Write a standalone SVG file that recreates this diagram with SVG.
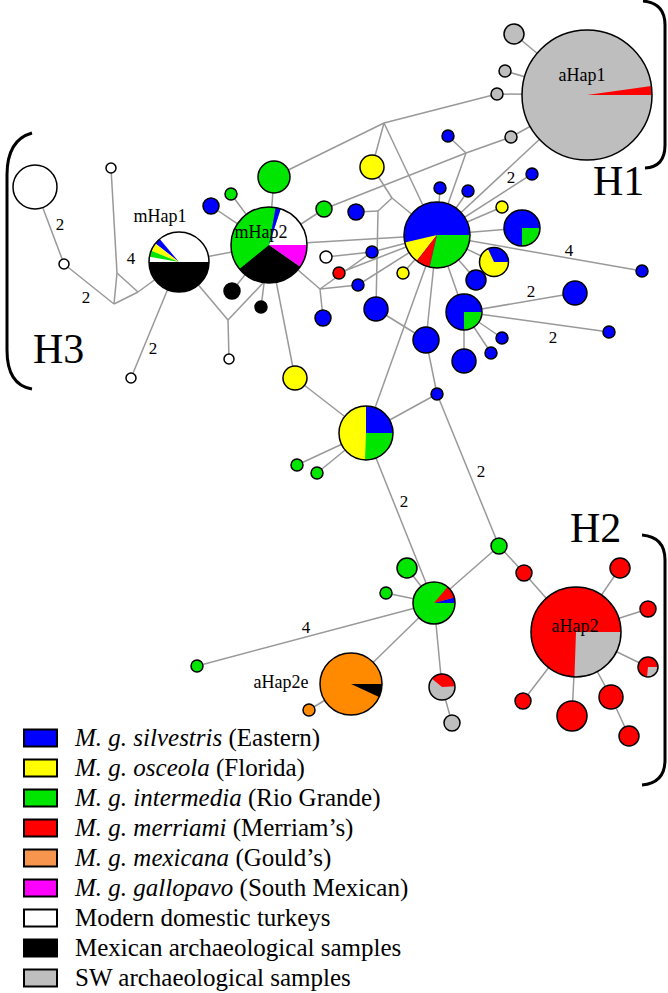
<svg xmlns="http://www.w3.org/2000/svg" width="668" height="993" viewBox="0 0 668 993">
<style>
.e{stroke:#999;stroke-width:1.5;fill:none}
.n{stroke:#000;stroke-width:1.5}
.o{stroke:#000;stroke-width:1.5;fill:none}
.B{fill:#0000ff}.Y{fill:#ffff00}.G{fill:#00e600}.R{fill:#ff0000}.W{fill:#fff}.K{fill:#000}.S{fill:#bebebe}.O{fill:#ff8a00}.M{fill:#ff00ff}
.t{font-family:"Liberation Serif","Times New Roman",serif;fill:#000}
.lb{font-size:17px;text-anchor:middle}
.nm{font-size:18px;text-anchor:middle}
.h{font-size:42px}
.lg{font-size:25px}
.br{stroke:#000;stroke-width:3;fill:none}
.box{stroke:#000;stroke-width:2}
</style>
<rect width="668" height="993" fill="#fff"/>
<g id="connectors" class="e">
<line x1="35" y1="187" x2="64" y2="264"/>
<line x1="64" y1="264" x2="114" y2="304"/>
<line x1="114" y1="304" x2="117" y2="273"/>
<line x1="114" y1="304" x2="138" y2="292"/>
<line x1="117" y1="273" x2="138" y2="292"/>
<line x1="117" y1="273" x2="111" y2="168"/>
<line x1="138" y1="292" x2="179" y2="262"/>
<line x1="179" y1="262" x2="131" y2="378"/>
<line x1="179" y1="262" x2="228" y2="320"/>
<line x1="228" y1="320" x2="229" y2="359"/>
<line x1="228" y1="320" x2="264" y2="282"/>
<line x1="179" y1="262" x2="269" y2="245"/>
<line x1="269" y1="245" x2="211" y2="206"/>
<line x1="269" y1="245" x2="231" y2="194"/>
<line x1="269" y1="245" x2="274" y2="177"/>
<line x1="269" y1="245" x2="324" y2="209"/>
<line x1="269" y1="245" x2="232" y2="291"/>
<line x1="269" y1="245" x2="261" y2="307"/>
<line x1="269" y1="245" x2="295" y2="378"/>
<line x1="269" y1="245" x2="320" y2="289"/>
<line x1="269" y1="245" x2="437" y2="235"/>
<line x1="320" y1="289" x2="323" y2="318"/>
<line x1="320" y1="289" x2="358" y2="285"/>
<line x1="320" y1="289" x2="372" y2="252"/>
<line x1="358" y1="285" x2="437" y2="235"/>
<line x1="326" y1="257" x2="372" y2="252"/>
<line x1="372" y1="252" x2="437" y2="235"/>
<line x1="339" y1="273" x2="437" y2="235"/>
<line x1="274" y1="177" x2="384" y2="123"/>
<line x1="384" y1="123" x2="497" y2="94"/>
<line x1="384" y1="123" x2="372" y2="167"/>
<line x1="384" y1="123" x2="437" y2="235"/>
<line x1="324" y1="209" x2="466" y2="153"/>
<line x1="466" y1="153" x2="511" y2="137"/>
<line x1="466" y1="153" x2="448" y2="136"/>
<line x1="466" y1="153" x2="437" y2="235"/>
<line x1="372" y1="167" x2="392" y2="198"/>
<line x1="392" y1="198" x2="378" y2="211"/>
<line x1="378" y1="211" x2="356" y2="212"/>
<line x1="378" y1="211" x2="376" y2="309"/>
<line x1="392" y1="198" x2="437" y2="235"/>
<line x1="403" y1="273" x2="437" y2="235"/>
<line x1="437" y1="235" x2="440" y2="188"/>
<line x1="437" y1="235" x2="468" y2="191"/>
<line x1="437" y1="235" x2="532" y2="174"/>
<line x1="437" y1="235" x2="587" y2="95"/>
<line x1="437" y1="235" x2="502" y2="207"/>
<line x1="437" y1="235" x2="522" y2="228"/>
<line x1="437" y1="235" x2="494" y2="262"/>
<line x1="437" y1="235" x2="476" y2="280"/>
<line x1="437" y1="235" x2="642" y2="271"/>
<line x1="437" y1="235" x2="464" y2="312"/>
<line x1="437" y1="235" x2="426" y2="340"/>
<line x1="437" y1="235" x2="366" y2="433"/>
<line x1="587" y1="95" x2="514" y2="34"/>
<line x1="587" y1="95" x2="505" y2="71"/>
<line x1="587" y1="95" x2="497" y2="94"/>
<line x1="587" y1="95" x2="511" y2="137"/>
<line x1="464" y1="312" x2="575" y2="293"/>
<line x1="464" y1="312" x2="609" y2="332"/>
<line x1="464" y1="312" x2="502" y2="338"/>
<line x1="464" y1="312" x2="491" y2="353"/>
<line x1="464" y1="312" x2="464" y2="361"/>
<line x1="376" y1="309" x2="426" y2="340"/>
<line x1="426" y1="340" x2="437" y2="394"/>
<line x1="437" y1="394" x2="366" y2="433"/>
<line x1="437" y1="394" x2="499" y2="546"/>
<line x1="366" y1="433" x2="295" y2="378"/>
<line x1="366" y1="433" x2="297" y2="465"/>
<line x1="366" y1="433" x2="317" y2="473"/>
<line x1="366" y1="433" x2="434" y2="603"/>
<line x1="434" y1="603" x2="499" y2="546"/>
<line x1="434" y1="603" x2="407" y2="568"/>
<line x1="434" y1="603" x2="386" y2="593"/>
<line x1="434" y1="603" x2="197" y2="666"/>
<line x1="434" y1="603" x2="351" y2="684"/>
<line x1="434" y1="603" x2="442" y2="687"/>
<line x1="442" y1="687" x2="452" y2="723"/>
<line x1="351" y1="684" x2="309" y2="710"/>
<line x1="499" y1="546" x2="524" y2="573"/>
<line x1="524" y1="573" x2="576" y2="632"/>
<line x1="576" y1="632" x2="620" y2="568"/>
<line x1="576" y1="632" x2="648" y2="609"/>
<line x1="576" y1="632" x2="648" y2="667"/>
<line x1="576" y1="632" x2="523" y2="701"/>
<line x1="576" y1="632" x2="572" y2="716"/>
<line x1="576" y1="632" x2="611" y2="697"/>
<line x1="611" y1="697" x2="629" y2="736"/>
</g>
<g id="edge-labels" class="t lb">
<text x="60" y="230">2</text>
<text x="86" y="303">2</text>
<text x="131" y="264">4</text>
<text x="153" y="354">2</text>
<text x="511" y="183">2</text>
<text x="569" y="256">4</text>
<text x="531" y="297">2</text>
<text x="553" y="343">2</text>
<text x="481" y="477">2</text>
<text x="404" y="507">2</text>
<text x="306" y="633">4</text>
</g>
<g id="nodes">
<circle id="w1" class="n W" cx="35" cy="187" r="22"/>
<circle id="w2" class="n W" cx="64" cy="264" r="5"/>
<circle id="w3" class="n W" cx="111" cy="168" r="5"/>
<circle id="w4" class="n W" cx="131" cy="378" r="5"/>
<circle id="w5" class="n W" cx="229" cy="359" r="5"/>
<g id="mHap1">
<circle class="W" cx="179" cy="262" r="30"/>
<path class="B" d="M179,262 L159.72,239.02 A30,30 0 0 0 155.36,243.53 Z"/>
<path class="Y" d="M179,262 L155.36,243.53 A30,30 0 0 0 151.18,250.76 Z"/>
<path class="G" d="M179,262 L151.18,250.76 A30,30 0 0 0 149.46,256.79 Z"/>
<path class="K" d="M179,262 L149,262 A30,30 0 0 0 209,262 Z"/>
<circle class="o" cx="179" cy="262" r="30"/>
</g>
<g id="mHap2">
<circle class="G" cx="269" cy="245" r="38"/>
<path class="W" d="M269,245 L307,245 A38,38 0 0 0 280.74,208.86 Z"/>
<path class="B" d="M269,245 L280.74,208.86 A38,38 0 0 0 275.6,207.58 Z"/>
<path class="K" d="M269,245 L239.47,268.91 A38,38 0 0 0 300.13,266.8 Z"/>
<path class="M" d="M269,245 L300.13,266.8 A38,38 0 0 0 307,245 Z"/>
<circle class="o" cx="269" cy="245" r="38"/>
</g>
<circle id="b1" class="n B" cx="211" cy="206" r="8"/>
<circle id="g1" class="n G" cx="231" cy="194" r="6"/>
<circle id="g2" class="n G" cx="274" cy="177" r="16"/>
<circle id="g3" class="n G" cx="324" cy="209" r="8"/>
<circle id="k1" class="n K" cx="232" cy="291" r="8"/>
<circle id="k2" class="n K" cx="261" cy="307" r="6"/>
<circle id="w6" class="n W" cx="326" cy="257" r="6"/>
<circle id="r1" class="n R" cx="339" cy="273" r="6"/>
<circle id="b2" class="n B" cx="356" cy="212" r="8"/>
<circle id="y1" class="n Y" cx="372" cy="167" r="12"/>
<circle id="b3" class="n B" cx="372" cy="252" r="6"/>
<circle id="b4" class="n B" cx="358" cy="285" r="6"/>
<circle id="b5" class="n B" cx="323" cy="318" r="8"/>
<circle id="b6" class="n B" cx="376" cy="309" r="12"/>
<circle id="y2" class="n Y" cx="403" cy="273" r="6"/>
<circle id="y3" class="n Y" cx="295" cy="378" r="12"/>
<g id="bigblue">
<circle class="B" cx="437" cy="235" r="33"/>
<path class="Y" d="M437,235 L404.85,242.42 A33,33 0 0 0 416.68,261 Z"/>
<path class="R" d="M437,235 L416.68,261 A33,33 0 0 0 429.58,267.15 Z"/>
<path class="G" d="M437,235 L429.58,267.15 A33,33 0 0 0 470,235 Z"/>
<circle class="o" cx="437" cy="235" r="33"/>
</g>
<circle id="b7" class="n B" cx="448" cy="136" r="6"/>
<circle id="b8" class="n B" cx="440" cy="188" r="6"/>
<circle id="b9" class="n B" cx="468" cy="191" r="6"/>
<circle id="b10" class="n B" cx="532" cy="174" r="6"/>
<circle id="y4" class="n Y" cx="502" cy="207" r="6"/>
<g id="bg1">
<circle class="B" cx="522" cy="228" r="18"/>
<path class="G" d="M522,228 L522,246 A18,18 0 0 0 540,228 Z"/>
<circle class="o" cx="522" cy="228" r="18"/>
</g>
<g id="yb">
<circle class="Y" cx="494" cy="262" r="14.5"/>
<path class="B" d="M494,262 L508.5,262 A14.5,14.5 0 0 0 487.87,248.86 Z"/>
<circle class="o" cx="494" cy="262" r="14.5"/>
</g>
<circle id="b11" class="n B" cx="476" cy="280" r="10"/>
<circle id="b12" class="n B" cx="642" cy="271" r="6"/>
<g id="bg2">
<circle class="B" cx="464" cy="312" r="18"/>
<path class="G" d="M464,312 L464,330 A18,18 0 0 0 482,312 Z"/>
<circle class="o" cx="464" cy="312" r="18"/>
</g>
<circle id="b13" class="n B" cx="575" cy="293" r="12"/>
<circle id="b14" class="n B" cx="609" cy="332" r="6"/>
<circle id="b15" class="n B" cx="502" cy="338" r="6"/>
<circle id="b16" class="n B" cx="491" cy="353" r="6"/>
<circle id="b17" class="n B" cx="464" cy="361" r="12"/>
<circle id="b18" class="n B" cx="426" cy="340" r="13"/>
<circle id="b19" class="n B" cx="437" cy="394" r="6"/>
<g id="ybg">
<circle class="Y" cx="366" cy="433" r="27"/>
<path class="B" d="M366,433 L393,433 A27,27 0 0 0 366,406 Z"/>
<path class="G" d="M366,433 L365.06,459.98 A27,27 0 0 0 393,433 Z"/>
<circle class="o" cx="366" cy="433" r="27"/>
</g>
<circle id="g4" class="n G" cx="297" cy="465" r="6"/>
<circle id="g5" class="n G" cx="317" cy="473" r="6"/>
<circle id="g6" class="n G" cx="499" cy="546" r="8"/>
<g id="gpie">
<circle class="G" cx="434" cy="603" r="21"/>
<path class="B" d="M434,603 L455,603 A21,21 0 0 0 454.28,597.57 Z"/>
<path class="R" d="M434,603 L454.28,597.57 A21,21 0 0 0 447.5,586.91 Z"/>
<circle class="o" cx="434" cy="603" r="21"/>
</g>
<circle id="g7" class="n G" cx="407" cy="568" r="10"/>
<circle id="g8" class="n G" cx="386" cy="593" r="6"/>
<circle id="g9" class="n G" cx="197" cy="666" r="6"/>
<g id="aHap2e">
<circle class="O" cx="351" cy="684" r="31"/>
<path class="K" d="M351,684 L379.1,697.1 A31,31 0 0 0 382,684 Z"/>
<circle class="o" cx="351" cy="684" r="31"/>
</g>
<circle id="o1" class="n O" cx="309" cy="710" r="6"/>
<g id="rg">
<circle class="S" cx="442" cy="687" r="13"/>
<path class="R" d="M442,687 L454.98,686.32 A13,13 0 0 0 431.9,678.82 Z"/>
<circle class="o" cx="442" cy="687" r="13"/>
</g>
<circle id="s1" class="n S" cx="452" cy="723" r="8"/>
<g id="aHap2">
<circle class="R" cx="576" cy="632" r="45"/>
<path class="S" d="M576,632 L574.43,676.97 A45,45 0 0 0 621,632 Z"/>
<circle class="o" cx="576" cy="632" r="45"/>
</g>
<circle id="r2" class="n R" cx="524" cy="573" r="8"/>
<circle id="r3" class="n R" cx="620" cy="568" r="10"/>
<circle id="r4" class="n R" cx="648" cy="609" r="8"/>
<g id="rg2">
<circle class="R" cx="648" cy="667" r="10"/>
<path class="S" d="M648,667 L647,677 A10,10 0 0 0 658,667 Z"/>
<circle class="o" cx="648" cy="667" r="10"/>
</g>
<circle id="r5" class="n R" cx="523" cy="701" r="8"/>
<circle id="r6" class="n R" cx="572" cy="716" r="15"/>
<circle id="r7" class="n R" cx="611" cy="697" r="12"/>
<circle id="r8" class="n R" cx="629" cy="736" r="10"/>
<g id="aHap1">
<circle class="S" cx="587" cy="95" r="65"/>
<path class="R" d="M587,95 L652,95 A65,65 0 0 0 651.37,85.95 Z"/>
<circle class="o" cx="587" cy="95" r="65"/>
</g>
<circle id="s2" class="n S" cx="514" cy="34" r="10"/>
<circle id="s3" class="n S" cx="505" cy="71" r="6"/>
<circle id="s4" class="n S" cx="497" cy="94" r="6"/>
<circle id="s5" class="n S" cx="511" cy="137" r="6"/>
</g>
<g id="node-labels" class="t nm">
<text x="160" y="222">mHap1</text>
<text x="261" y="238">mHap2</text>
<text x="582" y="81">aHap1</text>
<text x="575" y="632">aHap2</text>
<text x="281" y="688">aHap2e</text>
</g>
<g id="groups">
<path class="br" d="M643,1 Q665,3 665,25 L665,145 Q665,167 645,168"/>
<text class="t h" x="593" y="195">H1</text>
<path class="br" d="M32,133 Q7,140 7,175 L7,350 Q7,385 32,389"/>
<text class="t h" x="33" y="363">H3</text>
<path class="br" d="M642,535 Q665,537 665,560 L665,760 Q665,783 642,785"/>
<text class="t h" x="570" y="542">H2</text>
</g>
<g id="legend">
<rect class="box B" x="24" y="729.5" width="33" height="17"/>
<rect class="box Y" x="24" y="759.5" width="33" height="17"/>
<rect class="box G" x="24" y="789.5" width="33" height="17"/>
<rect class="box R" x="24" y="819.5" width="33" height="17"/>
<rect class="box" fill="#f7944e" x="24" y="849.5" width="33" height="17"/>
<rect class="box M" x="24" y="879.5" width="33" height="17"/>
<rect class="box W" x="24" y="909.5" width="33" height="17"/>
<rect class="box K" x="24" y="939.5" width="33" height="17"/>
<rect class="box S" x="24" y="969.5" width="33" height="17"/>
<g class="t lg">
<text x="75" y="746"><tspan font-style="italic">M. g. silvestris</tspan> (Eastern)</text>
<text x="75" y="776"><tspan font-style="italic">M. g. osceola</tspan> (Florida)</text>
<text x="75" y="806"><tspan font-style="italic">M. g. intermedia</tspan> (Rio Grande)</text>
<text x="75" y="836"><tspan font-style="italic">M. g. merriami</tspan> (Merriam’s)</text>
<text x="75" y="866"><tspan font-style="italic">M. g. mexicana</tspan> (Gould’s)</text>
<text x="75" y="896"><tspan font-style="italic">M. g. gallopavo</tspan> (South Mexican)</text>
<text x="75" y="926">Modern domestic turkeys</text>
<text x="75" y="956">Mexican archaeological samples</text>
<text x="75" y="986">SW archaeological samples</text>
</g>
</g>
</svg>
